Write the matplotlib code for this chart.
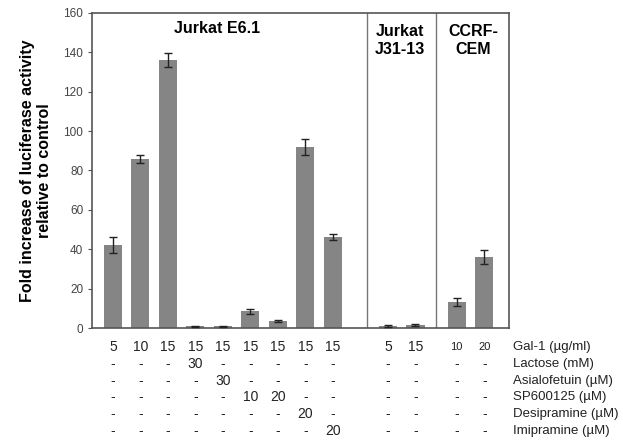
import numpy as np
from matplotlib import pyplot as plt
from matplotlib import transforms

plt.rcParams['font.family'] = ['Liberation Sans', 'DejaVu Sans']

# bar positions grouped by cell line
positions = [0, 1, 2, 3, 4, 5, 6, 7, 8, 10, 11, 12.5, 13.5]
values = [42, 86, 136, 0.8, 0.8, 8.5, 3.5, 92, 46, 1.0, 1.5, 13, 36]
errors = [4, 2, 3.5, 0.3, 0.3, 1.2, 0.5, 4, 1.5, 0.3, 0.5, 2, 3.5]

gal1 = ['5', '10', '15', '15', '15', '15', '15', '15', '15', '5', '15', '10', '20']
lactose = ['-', '-', '-', '30', '-', '-', '-', '-', '-', '-', '-', '-', '-']
asialo = ['-', '-', '-', '-', '30', '-', '-', '-', '-', '-', '-', '-', '-']
sp600125 = ['-', '-', '-', '-', '-', '10', '20', '-', '-', '-', '-', '-', '-']
desipramine = ['-', '-', '-', '-', '-', '-', '-', '20', '-', '-', '-', '-', '-']
imipramine = ['-', '-', '-', '-', '-', '-', '-', '-', '20', '-', '-', '-', '-']
row_labels = ['Gal-1 (\u00b5g/ml)', 'Lactose (mM)', 'Asialofetuin (\u00b5M)',
              'SP600125 (\u00b5M)', 'Desipramine (\u00b5M)', 'Imipramine (\u00b5M)']
rows = [gal1, lactose, asialo, sp600125, desipramine, imipramine]

fig = plt.figure(figsize=(6.23, 4.4), dpi=100)
ax = fig.add_axes([0.148, 0.2545, 0.669, 0.716])

ax.bar(positions, values, width=0.66, color='#858585', zorder=2)
ax.errorbar(positions, values, yerr=errors, fmt='none', ecolor='#222222',
            elinewidth=1, capsize=3, capthick=1, zorder=3)

ax.set_xlim(-0.75, 14.4)
ax.set_ylim(0, 160)
ax.set_yticks(np.arange(0, 161, 20))
ax.set_xticks([])
ax.tick_params(axis='y', labelsize=8.5, labelcolor='#444444', color='#555555',
               length=3, direction='out')
for s in ax.spines.values():
    s.set_color('#555555')
    s.set_linewidth(1.2)

# dividers between cell lines
for xd in [9.25, 11.75]:
    ax.axvline(xd, color='#777777', lw=1)

ax.text(3.8, 152, 'Jurkat E6.1', ha='center', va='center', fontsize=11.5, fontweight='bold')
ax.text(10.45, 146, 'Jurkat\nJ31-13', ha='center', va='center', fontsize=11.5,
        fontweight='bold', linespacing=1.25)
ax.text(13.1, 146, 'CCRF-\nCEM', ha='center', va='center', fontsize=11.5,
        fontweight='bold', linespacing=1.25)

ax.set_ylabel('Fold increase of luciferase activity\nrelative to control',
              fontsize=11.5, fontweight='bold', labelpad=8)

# treatment table below the axis
trans = transforms.blended_transform_factory(ax.transData, ax.transAxes)
row_y = [-0.06, -0.114, -0.168, -0.22, -0.274, -0.328]
for r, (vals, lab) in enumerate(zip(rows, row_labels)):
    for i, (p, v) in enumerate(zip(positions, vals)):
        fs = 8 if (r == 0 and i >= 11) else 10
        ax.text(p, row_y[r], v, transform=trans, ha='center', va='center',
                fontsize=fs, color='#222222', clip_on=False)
    ax.text(14.55, row_y[r], lab, transform=trans, ha='left', va='center',
            fontsize=9.5, color='#222222', clip_on=False)

plt.savefig('out.png', dpi=100)
